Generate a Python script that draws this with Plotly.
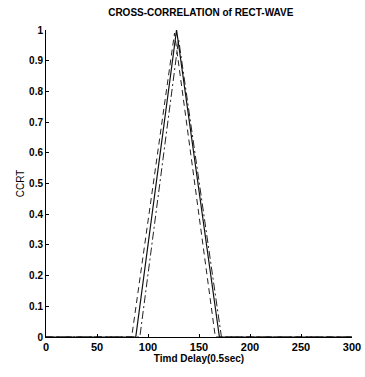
import plotly.graph_objects as go

# Delay (0.5 sec units) and correlation values for three triangular correlations
delay_solid = [0, 88, 128, 170, 300]
corr_solid = [0, 0, 1.0, 0, 0]

delay_dash1 = [0, 84, 126, 166, 300]
corr_dash1 = [0, 0, 0.99, 0, 0]

delay_dash2 = [0, 92, 130, 172, 300]
corr_dash2 = [0, 0, 0.97, 0, 0]

x_ticks = [0, 50, 100, 150, 200, 250, 300]
y_ticks = [0, 0.1, 0.2, 0.3, 0.4, 0.5, 0.6, 0.7, 0.8, 0.9, 1]
y_tick_labels = ["0", "0.1", "0.2", "0.3", "0.4", "0.5", "0.6", "0.7", "0.8", "0.9", "1"]

fig = go.Figure()
fig.add_trace(go.Scatter(x=delay_dash1, y=corr_dash1, mode="lines",
                         line=dict(color="#222", width=1, dash="6px,4px")))
fig.add_trace(go.Scatter(x=delay_dash2, y=corr_dash2, mode="lines",
                         line=dict(color="#222", width=1, dash="8px,3px,2px,3px")))
fig.add_trace(go.Scatter(x=delay_solid, y=corr_solid, mode="lines",
                         line=dict(color="#111", width=1.2)))

font = dict(family="Liberation Sans, Arial, sans-serif", size=10, color="black")
fig.update_layout(
    width=365, height=377,
    margin=dict(l=46, r=13, t=30, b=40, autoexpand=False),
    paper_bgcolor="white", plot_bgcolor="white",
    showlegend=False,
    font=font,
    title=dict(text="<b>CROSS-CORRELATION of RECT-WAVE</b>", x=0.55, xanchor="center",
               y=0.975, yanchor="top", font=dict(size=10, family=font["family"])),
)
fig.update_xaxes(range=[0, 300], tickvals=x_ticks, ticktext=[f"<b>{v}</b>" for v in x_ticks],
                 showline=True, linecolor="black", linewidth=1, ticks="inside", ticklen=3,
                 tickcolor="black", showgrid=False, zeroline=False, mirror=False,
                 automargin=False, tickfont=dict(size=11),
                 title=dict(text="<b>Timd Delay(0.5sec)</b>", standoff=2, font=dict(size=10)))
fig.update_yaxes(range=[0, 1], tickvals=y_ticks, ticktext=[f"<b>{t}</b>" for t in y_tick_labels],
                 showline=True, linecolor="black", linewidth=1, ticks="inside", ticklen=3,
                 tickcolor="black", showgrid=False, zeroline=False, mirror=False,
                 automargin=False,
                 title=dict(text="CCRT", standoff=2, font=dict(size=10)))

fig.write_html("out.html")
